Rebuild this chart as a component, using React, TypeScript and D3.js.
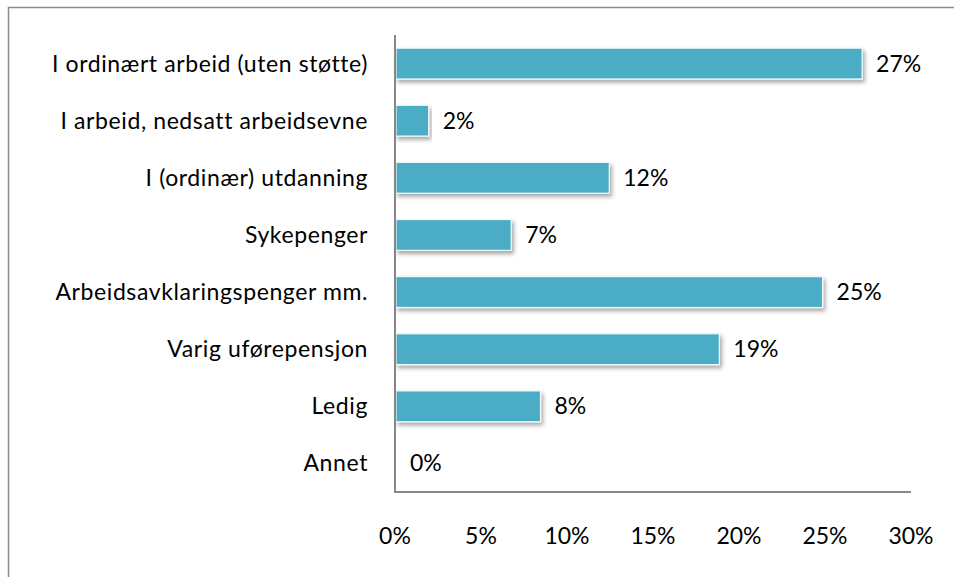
import React, { useEffect, useRef } from "react";
import * as d3 from "d3";

const categories = [
  "I ordinært arbeid (uten støtte)",
  "I arbeid, nedsatt arbeidsevne",
  "I (ordinær) utdanning",
  "Sykepenger",
  "Arbeidsavklaringspenger mm.",
  "Varig uførepensjon",
  "Ledig",
  "Annet",
];
const values = [27.1, 1.9, 12.4, 6.7, 24.8, 18.8, 8.4, 0];
const xTicks = [0, 5, 10, 15, 20, 25, 30];

const App = () => {
  const svgRef = useRef<SVGSVGElement>(null);

  useEffect(() => {
    const svg = d3.select(svgRef.current);
    svg.selectAll("*").remove();

    const font = "Lato, 'Open Sans', sans-serif";
    const left = 395, right = 911, top = 35, bottom = 492;

    const defs = svg.append("defs");
    const f = defs.append("filter").attr("id", "shadow")
      .attr("x", "-5%").attr("y", "-30%").attr("width", "115%").attr("height", "180%");
    f.append("feDropShadow").attr("dx", 2).attr("dy", 3).attr("stdDeviation", 2)
      .attr("flood-color", "#000").attr("flood-opacity", 0.35);

    // frame
    svg.append("rect")
      .attr("x", 8.5).attr("y", 7.5).attr("width", 1000).attr("height", 1000)
      .attr("fill", "white").attr("stroke", "#8c8c8c").attr("stroke-width", 1.5);

    const x = d3.scaleLinear().domain([0, 30]).range([left, right]);
    const y = d3.scaleBand().domain(categories).range([top, bottom]).paddingInner(0.46).paddingOuter(0.23);

    const data = categories.map((c, i) => ({ c, v: values[i] }));

    // bars
    svg.selectAll(".bar")
      .data(data.filter(d => d.v > 0))
      .join("rect")
      .attr("class", "bar")
      .attr("x", x(0) + 1)
      .attr("y", d => y(d.c)!)
      .attr("width", d => x(d.v) - x(0))
      .attr("height", y.bandwidth())
      .attr("fill", "#4bacc6")
      .attr("stroke", "#f2f8fa")
      .attr("stroke-width", 1.2)
      .attr("filter", "url(#shadow)");

    // axes lines
    svg.append("line").attr("x1", left).attr("x2", left).attr("y1", top).attr("y2", bottom)
      .attr("stroke", "#868686").attr("stroke-width", 2);
    svg.append("line").attr("x1", left - 1).attr("x2", right).attr("y1", bottom).attr("y2", bottom)
      .attr("stroke", "#868686").attr("stroke-width", 2);

    // category labels
    svg.selectAll(".cat")
      .data(data)
      .join("text")
      .attr("class", "cat")
      .attr("x", 368)
      .attr("y", d => y(d.c)! + y.bandwidth() / 2)
      .attr("dy", "0.35em")
      .attr("text-anchor", "end")
      .style("font-family", font)
      .style("font-size", "23px")
      .style("letter-spacing", "0.6px")
      .attr("fill", "#000")
      .text(d => d.c);

    // value labels
    svg.selectAll(".val")
      .data(data)
      .join("text")
      .attr("class", "val")
      .attr("x", d => x(d.v) + 15)
      .attr("y", d => y(d.c)! + y.bandwidth() / 2)
      .attr("dy", "0.35em")
      .style("font-family", font)
      .style("font-size", "23px")
      .attr("fill", "#000")
      .text(d => `${Math.round(d.v)}%`);

    // x tick labels
    svg.selectAll(".xt")
      .data(xTicks)
      .join("text")
      .attr("class", "xt")
      .attr("x", d => x(d))
      .attr("y", 536)
      .attr("dy", "0.35em")
      .attr("text-anchor", "middle")
      .style("font-family", font)
      .style("font-size", "23px")
      .attr("fill", "#000")
      .text(d => `${d}%`);
  }, []);

  return (
    <svg
      ref={svgRef}
      width={954}
      height={577}
      style={{ position: "absolute", left: 0, top: 0, background: "white" }}
    />
  );
};

export default App;
